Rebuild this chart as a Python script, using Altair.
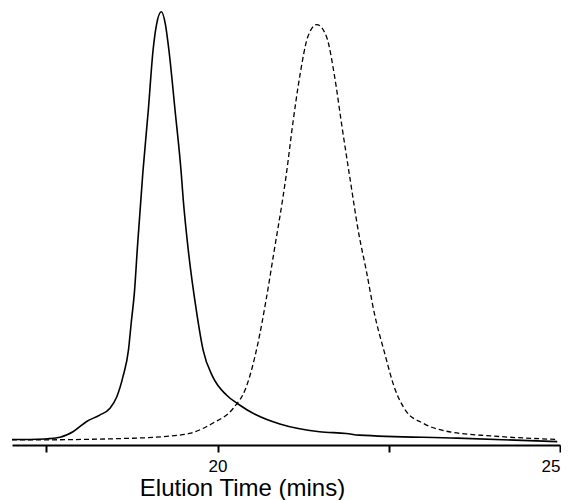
import altair as alt
import pandas as pd

# Solid trace (elution time in minutes, normalised detector response)
solid_time = [17.00, 17.26, 17.48, 17.70, 17.89, 18.09, 18.28, 18.43, 18.53, 18.62,
              18.70, 18.74, 18.79, 18.83, 18.91, 18.99, 19.06, 19.11, 19.18, 19.24,
              19.29, 19.38, 19.47, 19.50, 19.57, 19.69, 19.79, 19.93, 20.13, 20.30,
              20.57, 20.91, 21.49, 21.88, 22.07, 23.50, 24.96]
solid_value = [-0.001, -0.001, 0.000, 0.004, 0.017, 0.041, 0.056, 0.072, 0.099, 0.146,
               0.208, 0.271, 0.349, 0.447, 0.623, 0.770, 0.911, 0.970, 1.000, 0.970,
               0.911, 0.770, 0.623, 0.560, 0.447, 0.302, 0.208, 0.146, 0.103, 0.082,
               0.056, 0.035, 0.017, 0.013, 0.009, 0.002, -0.006]

# Dashed trace
dashed_time = [17.00, 17.26, 18.96, 19.30, 19.59, 19.93, 20.23, 20.42, 20.59, 20.71,
               20.83, 20.95, 21.00, 21.10, 21.20, 21.32, 21.45, 21.59, 21.71, 21.81,
               21.93, 22.07, 22.17, 22.29, 22.44, 22.58, 22.75, 23.00, 23.38, 24.02,
               24.96]
dashed_value = [-0.002, -0.002, 0.003, 0.007, 0.013, 0.037, 0.072, 0.122, 0.224, 0.326,
                0.443, 0.560, 0.614, 0.739, 0.848, 0.942, 0.970, 0.942, 0.848, 0.739,
                0.614, 0.474, 0.396, 0.294, 0.201, 0.122, 0.066, 0.037, 0.017, 0.007,
                -0.001]

tick_values = [17.5, 20, 22.5, 25]
x_domain = [17, 25]
y_domain = [-0.014, 1.0087]

solid_df = pd.DataFrame({"time": solid_time, "value": solid_value})
dashed_df = pd.DataFrame({"time": dashed_time, "value": dashed_value})

x_enc = alt.X(
    "time:Q",
    scale=alt.Scale(domain=x_domain, nice=False, zero=False),
    axis=alt.Axis(
        values=tick_values,
        labelExpr="datum.value % 5 == 0 ? datum.label : ''",
        grid=False,
        domainColor="black",
        domainWidth=2,
        tickColor="black",
        tickWidth=2,
        tickSize=7,
        labelFont="Liberation Sans",
        labelFontSize=17,
        labelColor="black",
        labelPadding=6,
        labelFlush=True,
        labelFlushOffset=0,
        labelOverlap=False,
        title="Elution Time (mins)",
        titleFont="Liberation Sans",
        titleFontSize=24,
        titleFontWeight="normal",
        titleColor="black",
        titleX=230,
        titleY=50,
        titleAlign="center",
        titleBaseline="alphabetic",
    ),
)
y_enc = alt.Y(
    "value:Q",
    scale=alt.Scale(domain=y_domain, nice=False, zero=False),
    axis=None,
)

solid = alt.Chart(solid_df).mark_line(
    color="black", strokeWidth=1.6, interpolate="monotone"
).encode(x=x_enc, y=y_enc)

dashed = alt.Chart(dashed_df).mark_line(
    color="black", strokeWidth=1.3, strokeDash=[5, 3], interpolate="monotone"
).encode(x=x_enc, y=y_enc)

chart = alt.layer(solid, dashed).properties(
    width=548,
    height=437,
    autosize=alt.AutoSizeParams(type="none"),
    padding={"left": 4, "top": 0, "right": 1, "bottom": 60},
    background="white",
).configure_view(stroke=None)

chart.save("out.html", embed_options={"renderer": "svg", "actions": False})
